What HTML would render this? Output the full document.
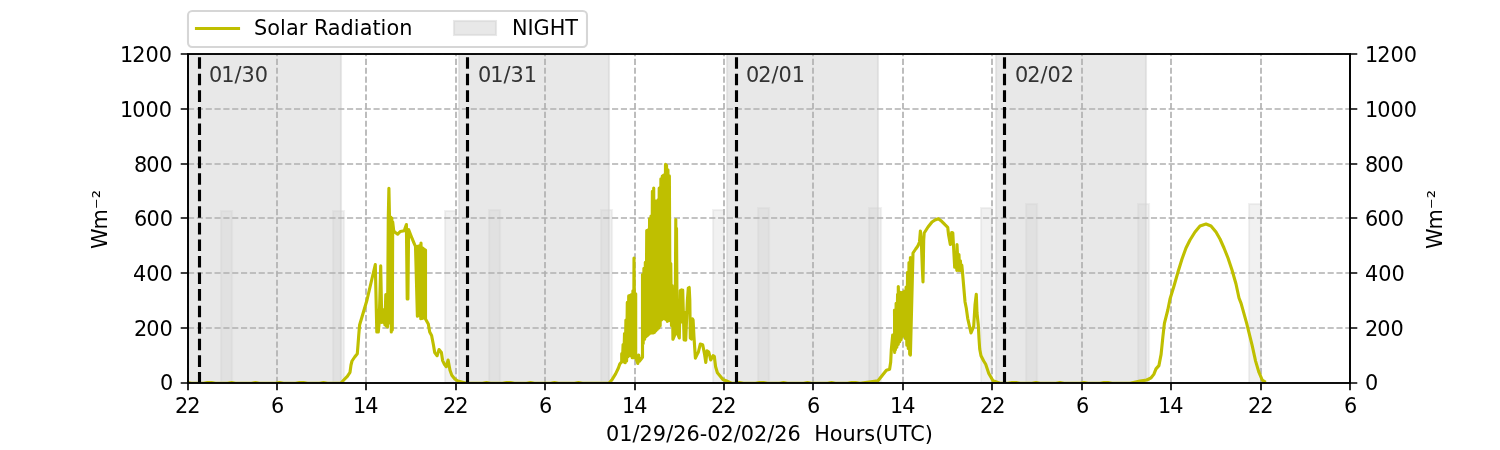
<!DOCTYPE html>
<html><head><meta charset="utf-8"><title>Solar Radiation</title><style>
html,body{margin:0;padding:0;background:#fff;width:1500px;height:450px;overflow:hidden}
svg{display:block;will-change:transform}
</style></head><body>
<svg width="1500" height="450" viewBox="0 0 1500 450">
<defs><clipPath id="ax"><rect x="187.5" y="54" width="1162.5" height="328.5"/></clipPath></defs>
<rect x="0" y="0" width="1500" height="450" fill="#fff"/>
<g clip-path="url(#ax)">
<rect x="-77" y="54" width="418" height="329" fill="#d3d3d3" fill-opacity="0.52" stroke="#d3d3d3" stroke-opacity="0.52" stroke-width="2.083"/>
<rect x="459" y="54" width="150" height="329" fill="#d3d3d3" fill-opacity="0.52" stroke="#d3d3d3" stroke-opacity="0.52" stroke-width="2.083"/>
<rect x="727" y="54" width="151" height="329" fill="#d3d3d3" fill-opacity="0.52" stroke="#d3d3d3" stroke-opacity="0.52" stroke-width="2.083"/>
<rect x="996" y="54" width="150" height="329" fill="#d3d3d3" fill-opacity="0.52" stroke="#d3d3d3" stroke-opacity="0.52" stroke-width="2.083"/>
<rect x="221" y="211" width="11" height="172" fill="#d3d3d3" fill-opacity="0.312" stroke="#d3d3d3" stroke-opacity="0.312" stroke-width="2.083"/>
<rect x="333" y="211" width="11" height="172" fill="#d3d3d3" fill-opacity="0.312" stroke="#d3d3d3" stroke-opacity="0.312" stroke-width="2.083"/>
<rect x="445" y="211" width="11" height="172" fill="#d3d3d3" fill-opacity="0.312" stroke="#d3d3d3" stroke-opacity="0.312" stroke-width="2.083"/>
<rect x="489" y="210" width="11" height="173" fill="#d3d3d3" fill-opacity="0.312" stroke="#d3d3d3" stroke-opacity="0.312" stroke-width="2.083"/>
<rect x="601" y="210" width="11" height="173" fill="#d3d3d3" fill-opacity="0.312" stroke="#d3d3d3" stroke-opacity="0.312" stroke-width="2.083"/>
<rect x="713" y="210" width="11" height="173" fill="#d3d3d3" fill-opacity="0.312" stroke="#d3d3d3" stroke-opacity="0.312" stroke-width="2.083"/>
<rect x="758" y="208" width="11" height="175" fill="#d3d3d3" fill-opacity="0.312" stroke="#d3d3d3" stroke-opacity="0.312" stroke-width="2.083"/>
<rect x="869" y="208" width="12" height="175" fill="#d3d3d3" fill-opacity="0.312" stroke="#d3d3d3" stroke-opacity="0.312" stroke-width="2.083"/>
<rect x="981" y="208" width="11" height="175" fill="#d3d3d3" fill-opacity="0.312" stroke="#d3d3d3" stroke-opacity="0.312" stroke-width="2.083"/>
<rect x="1026" y="204" width="11" height="179" fill="#d3d3d3" fill-opacity="0.312" stroke="#d3d3d3" stroke-opacity="0.312" stroke-width="2.083"/>
<rect x="1138" y="204" width="11" height="179" fill="#d3d3d3" fill-opacity="0.312" stroke="#d3d3d3" stroke-opacity="0.312" stroke-width="2.083"/>
<rect x="1249" y="204" width="12" height="179" fill="#d3d3d3" fill-opacity="0.312" stroke="#d3d3d3" stroke-opacity="0.312" stroke-width="2.083"/>
<path d="M188 383V54" stroke="#b0b0b0" stroke-width="1.667" stroke-dasharray="6.167,2.667" fill="none"/>
<path d="M277 383V54" stroke="#b0b0b0" stroke-width="1.667" stroke-dasharray="6.167,2.667" fill="none"/>
<path d="M366 383V54" stroke="#b0b0b0" stroke-width="1.667" stroke-dasharray="6.167,2.667" fill="none"/>
<path d="M456 383V54" stroke="#b0b0b0" stroke-width="1.667" stroke-dasharray="6.167,2.667" fill="none"/>
<path d="M545 383V54" stroke="#b0b0b0" stroke-width="1.667" stroke-dasharray="6.167,2.667" fill="none"/>
<path d="M635 383V54" stroke="#b0b0b0" stroke-width="1.667" stroke-dasharray="6.167,2.667" fill="none"/>
<path d="M724 383V54" stroke="#b0b0b0" stroke-width="1.667" stroke-dasharray="6.167,2.667" fill="none"/>
<path d="M813 383V54" stroke="#b0b0b0" stroke-width="1.667" stroke-dasharray="6.167,2.667" fill="none"/>
<path d="M903 383V54" stroke="#b0b0b0" stroke-width="1.667" stroke-dasharray="6.167,2.667" fill="none"/>
<path d="M992 383V54" stroke="#b0b0b0" stroke-width="1.667" stroke-dasharray="6.167,2.667" fill="none"/>
<path d="M1082 383V54" stroke="#b0b0b0" stroke-width="1.667" stroke-dasharray="6.167,2.667" fill="none"/>
<path d="M1171 383V54" stroke="#b0b0b0" stroke-width="1.667" stroke-dasharray="6.167,2.667" fill="none"/>
<path d="M1261 383V54" stroke="#b0b0b0" stroke-width="1.667" stroke-dasharray="6.167,2.667" fill="none"/>
<path d="M1350 383V54" stroke="#b0b0b0" stroke-width="1.667" stroke-dasharray="6.167,2.667" fill="none"/>
<path d="M188 383H1350" stroke="#b0b0b0" stroke-width="1.667" stroke-dasharray="6.167,2.667" fill="none"/>
<path d="M188 328H1350" stroke="#b0b0b0" stroke-width="1.667" stroke-dasharray="6.167,2.667" fill="none"/>
<path d="M188 273H1350" stroke="#b0b0b0" stroke-width="1.667" stroke-dasharray="6.167,2.667" fill="none"/>
<path d="M188 218H1350" stroke="#b0b0b0" stroke-width="1.667" stroke-dasharray="6.167,2.667" fill="none"/>
<path d="M188 164H1350" stroke="#b0b0b0" stroke-width="1.667" stroke-dasharray="6.167,2.667" fill="none"/>
<path d="M188 109H1350" stroke="#b0b0b0" stroke-width="1.667" stroke-dasharray="6.167,2.667" fill="none"/>
<path d="M188 54H1350" stroke="#b0b0b0" stroke-width="1.667" stroke-dasharray="6.167,2.667" fill="none"/>
<path d="M187.5 382.5 L191.5 383.2 L195.5 383.2 L199.5 383.2 L203.5 383.2 L207.5 382.5 L211.5 382.5 L215.5 383.2 L219.5 383.2 L223.5 383.2 L227.5 383.2 L231.5 382.5 L235.5 383.2 L239.5 383.2 L243.5 383.2 L247.5 383.2 L251.5 383.2 L255.5 382.5 L259.5 383.2 L263.5 383.2 L267.5 383.2 L271.5 383.2 L275.5 383.2 L279.5 382.5 L283.5 383.2 L287.5 383.2 L291.5 383.2 L295.5 383.2 L299.5 382.5 L303.5 382.5 L307.5 383.2 L311.5 383.2 L315.5 383.2 L319.5 383.2 L323.5 382.5 L327.5 383.2 L330 383.2 L340.7 383.2 L344 379.7 L347.3 376.3 L350 372.3 L351 365 L352 361 L354.7 357 L357.3 353.7 L358 345 L358.7 335.7 L359.6 325 L367 300 L375.3 264.5 L376.8 332 L377.6 310 L378.3 332 L379.1 323 L379.8 300 L380.7 265.8 L381.8 322.5 L382.6 309.5 L383.4 322.5 L384.2 309.5 L384.9 325 L385.8 294.5 L386.3 326 L386.8 294.5 L387.5 327 L388.3 217 L388.9 188.2 L389.5 217 L390.1 323 L390.7 217 L391.3 332 L391.8 218 L392.3 330 L392.7 222 L393.7 230.8 L395 232.2 L397.7 234.2 L400.3 231.5 L404.3 230.8 L405.5 227 L406.4 224.5 L407.2 299 L407.9 299 L408.6 229.5 L411 235.7 L413.7 242.3 L415.5 246.5 L417.4 316.3 L417.4 246.282 L418.075 315.562 L418.75 245.955 L419.425 315.583 L420.1 245.295 L420.775 318.75 L421 243 L422.125 318.394 L422.8 247.963 L423.475 318.056 L424.15 248.963 L424.825 318.019 L425.5 249.975 L425.5 319 L428.3 324 L429.7 332 L431.6 335.5 L433.4 344.7 L434.7 352.6 L437.1 355.7 L439 349.6 L441.4 352.6 L442.6 360.6 L444.4 364.2 L446.3 366.7 L448.1 360 L450 370.3 L451.8 375.2 L454.8 378.9 L457.9 381.1 L466.5 383.2 L470.5 383.2 L474.5 383.2 L478.5 383.2 L482.5 383.2 L486.5 382.5 L490.5 383.2 L494.5 383.2 L498.5 383.2 L502.5 383.2 L506.5 382.5 L510.5 382.5 L514.5 383.2 L518.5 383.2 L522.5 383.2 L526.5 383.2 L530.5 382.5 L534.5 383.2 L538.5 383.2 L542.5 383.2 L546.5 383.2 L550.5 383.2 L554.5 382.5 L558.5 383.2 L562.5 383.2 L566.5 383.2 L570.5 383.2 L574.5 383.2 L578.5 382.5 L582.5 383.2 L586.5 383.2 L590.5 383.2 L594.5 383.2 L600 383.2 L608.9 383.2 L612.2 379.4 L615.6 373.9 L618.3 368.3 L619.8 364 L621.7 361.727 L621.7 353.63 L622.4 361.591 L623.1 344.5 L623.8 361.971 L624.5 333.5 L625.2 362.794 L625.9 320.1 L626.6 360.909 L627.3 302.429 L628 356.773 L628.7 295.909 L629.4 355 L630.1 295.273 L630.8 355.783 L631.5 294.636 L632.2 357.609 L632.9 290.833 L633.6 357.783 L634 258 L635 357.13 L635.7 293.722 L635.7 357.344 L637.8 363.5 L638.7 355 L639.4 361.2 L640.4 360 L642.5 357.25 L642.5 274.473 L643.207 343.405 L643.914 268.359 L644.621 339.216 L645.328 262.244 L646.035 336.727 L646.742 230.555 L647.449 335.418 L648.156 229.707 L648.863 334.259 L649.57 218.802 L650.277 333.172 L650.984 216.045 L651.691 333 L652.398 191.256 L653.105 333 L653.7 188 L654.519 332.344 L655.226 200.822 L655.933 330.844 L656.64 200.969 L657.347 329.364 L658.053 199.853 L658.76 328.055 L659.2 188 L660.174 325.834 L660.881 178.766 L661.588 319.824 L662.295 176.115 L663.002 318.576 L663.709 175.067 L664.416 318.729 L665.5 164.3 L665.83 319.445 L666.537 165.297 L667.244 321.348 L667.951 169.781 L668.658 320.742 L669.365 175.935 L670.072 320.528 L670.779 263.5 L671.486 325.593 L672.193 285.5 L672.9 336.167 L672.9 339.289 L675.1 334.088 L675.8 219.5 L675.8 332.85 L676.5 228.324 L677.2 332.55 L677.2 332.55 L679.3 338 L680.3 290.5 L681.2 290 L682 322 L682.7 290 L684.1 339.826 L684.1 311.958 L684.9 339.826 L685.7 317.114 L685.7 340.174 L687.4 300 L688.3 288 L689.2 287.5 L689.8 300 L690.3 338 L691.5 339 L692.4 318.8 L693.1 320 L694 337.3 L695.4 358.1 L697.2 354.4 L698.4 352 L700.3 344.1 L702.7 344.7 L704.6 354.4 L705.8 362.4 L707 350.8 L708.8 352 L710.7 360 L713.1 355.7 L714.3 356.3 L715.6 366.7 L717.4 372.8 L720.5 376.5 L722.9 379.5 L726 380.7 L731.5 383.2 L735.5 383.2 L739.5 382.5 L743.5 383.2 L747.5 383.2 L751.5 383.2 L755.5 383.2 L759.5 382.5 L763.5 382.5 L767.5 383.2 L771.5 383.2 L775.5 383.2 L779.5 383.2 L783.5 382.5 L787.5 383.2 L791.5 383.2 L795.5 383.2 L799.5 383.2 L803.5 383.2 L807.5 382.5 L811.5 383.2 L815.5 383.2 L819.5 383.2 L823.5 383.2 L827.5 383.2 L831.5 382.5 L835.5 383.2 L839.5 383.2 L843.5 383.2 L847.5 383.2 L851.5 382.5 L855.5 382.5 L860 383.2 L878 380.8 L882.2 375.5 L886.4 370.2 L889.6 369.2 L890.7 362 L891.3 350 L892.7 335 L894.7 352.5 L894.5 310 L895.414 349.764 L896.127 303.335 L896.841 347.131 L897.555 294.227 L898.268 344.329 L898.3 286.5 L899.695 341.766 L900.409 292.423 L901.123 339.652 L901.836 292.487 L902.55 336.15 L903.264 291.958 L903.977 333.882 L904.691 290.97 L905.405 338.45 L906.118 287.005 L906.832 345.264 L907.545 272.385 L908.259 348.436 L908.973 262.464 L909.686 354.145 L910.4 257.5 L910.4 355.085 L913 253 L915.7 249 L917.7 246.3 L919.5 242 L920.4 231 L921.5 246 L922.4 270 L923 282 L923.7 240 L924.2 233 L928 227 L932 222 L935 220 L938.3 218.7 L941.7 221.3 L945 224.7 L947.7 227.3 L948.6 235 L950.3 244.5 L951.7 232.5 L952.8 233 L954.7 267.3 L954.7 258.5 L955.409 266.936 L956.118 258.136 L956.827 270.5 L957 244.5 L958.245 270.5 L958.955 254.599 L959.664 270.5 L960.373 260.723 L961.082 270.725 L961.791 265.056 L962.5 271.86 L962.5 272.5 L965 301.7 L966.3 308.3 L967.7 318.3 L971 333 L973.7 326.3 L975 305 L976.3 294.3 L977 313 L978.3 325 L979 338.3 L979.7 349 L981 355.7 L983.7 361 L985.7 364.3 L988.8 373.4 L993 380.8 L1000 383.2 L1004 383.2 L1008 383.2 L1012 382.5 L1016 382.5 L1020 383.2 L1024 383.2 L1028 383.2 L1032 383.2 L1036 382.5 L1040 383.2 L1044 383.2 L1048 383.2 L1052 383.2 L1056 383.2 L1060 382.5 L1064 383.2 L1068 383.2 L1072 383.2 L1076 383.2 L1080 383.2 L1084 382.5 L1088 383.2 L1092 383.2 L1096 383.2 L1100 383.2 L1104 382.5 L1108 382.5 L1112 383.2 L1116 383.2 L1120 383.2 L1124 383.2 L1130 383.2 L1140 381.1 L1146.7 380 L1151.1 377.8 L1153.8 374.4 L1156 368.9 L1158.9 365.6 L1161.1 354.4 L1162.9 336.7 L1164.4 323.3 L1167.8 310 L1170 299 L1174 286 L1178 272 L1182 259 L1186 248 L1190 240 L1195 232 L1200 226 L1206 224 L1211 226 L1216 232 L1220 239 L1224 248 L1228 258 L1232 270 L1236 284 L1239 298 L1241.1 303.3 L1246.7 323.3 L1252.2 345.6 L1255.6 361.1 L1258.9 372.2 L1262.2 380 L1264.4 381.5" stroke="#bfbf00" stroke-width="3.125" fill="none" stroke-linejoin="round" stroke-linecap="square"/>
<path d="M199.5 383.5V54.5" stroke="#000" stroke-width="3.125" stroke-dasharray="11.563,5" fill="none"/>
<path d="M467.5 383.5V54.5" stroke="#000" stroke-width="3.125" stroke-dasharray="11.563,5" fill="none"/>
<path d="M736.5 383.5V54.5" stroke="#000" stroke-width="3.125" stroke-dasharray="11.563,5" fill="none"/>
<path d="M1004.5 383.5V54.5" stroke="#000" stroke-width="3.125" stroke-dasharray="11.563,5" fill="none"/>
</g>
<path d="M188 383H1350V54H188Z" stroke="#000" stroke-width="1.667" fill="none" stroke-linejoin="miter" stroke-linecap="square"/>
<path d="M188 383H1350V54H188Z" stroke="#000" stroke-width="1.667" fill="none" stroke-linejoin="miter" stroke-linecap="square"/>
<path d="M188 383V390.292M277 383V390.292M366 383V390.292M456 383V390.292M545 383V390.292M635 383V390.292M724 383V390.292M813 383V390.292M903 383V390.292M992 383V390.292M1082 383V390.292M1171 383V390.292M1261 383V390.292M1350 383V390.292M188 383H180.708M1350 383H1357.292M188 328H180.708M1350 328H1357.292M188 273H180.708M1350 273H1357.292M188 218H180.708M1350 218H1357.292M188 164H180.708M1350 164H1357.292M188 109H180.708M1350 109H1357.292M188 54H180.708M1350 54H1357.292" stroke="#000" stroke-width="1.667" fill="none"/>
<g style="font-family:'DejaVu Sans','Liberation Sans',sans-serif;font-size:20.833px" fill="#000">
<text id="t0" x="209 221.25 234.5 241.5 254.75" y="82" fill="#333333">01/30</text>
<text id="t1" x="478 490.25 503.5 510.5 523.75" y="82" fill="#333333">01/31</text>
<text id="t2" x="746 758.25 771.5 778.5 791.75" y="82" fill="#333333">02/01</text>
<text id="t3" x="1015 1027.25 1040.5 1047.5 1060.75" y="82" fill="#333333">02/02</text>
<text id="t4" x="606 619.25 632.5 639.5 652.75 666.125 673.125 686.375 699.75 707.25 720.5 733.75 740.75 754 767.25 774.25 787.5 800.875 807.5 814.125 829.75 842.5 855.625 864.25 875.125 883.25 898.625 910.25 924.75" y="441">01/29/26-02/02/26&#160;&#160;Hours(UTC)</text>
<text id="t5" x="175 187.25" y="413">22</text>
<text id="t6" x="271" y="413">6</text>
<text id="t7" x="353 365.25" y="413">14</text>
<text id="t8" x="443 455.25" y="413">22</text>
<text id="t9" x="539" y="413">6</text>
<text id="t10" x="622 634.25" y="413">14</text>
<text id="t11" x="711 723.25" y="413">22</text>
<text id="t12" x="807" y="413">6</text>
<text id="t13" x="890 902.25" y="413">14</text>
<text id="t14" x="980 992.25" y="413">22</text>
<text id="t15" x="1076" y="413">6</text>
<text id="t16" x="1158 1170.25" y="413">14</text>
<text id="t17" x="1248 1260.25" y="413">22</text>
<text id="t18" x="1344" y="413">6</text>
<text id="t19" transform="translate(106.5 249) rotate(-90)" x="0 19.625 39.875 50.875" y="0">Wm⁻²</text>
<text id="t20" x="160" y="390">0</text>
<text id="t21" x="134 146.25 159.5" y="336">200</text>
<text id="t22" x="133 146.25 159.5" y="281">400</text>
<text id="t23" x="134 146.375 159.625" y="226">600</text>
<text id="t24" x="134 146.125 159.375" y="172">800</text>
<text id="t25" x="120 132.25 145.5 158.75" y="117">1000</text>
<text id="t26" x="120 132.25 145.5 158.75" y="62">1200</text>
<text id="t29" transform="translate(1441.5 249) rotate(-90)" x="0 19.625 39.875 50.875" y="0">Wm⁻²</text>
<text id="t30" x="1365" y="390">0</text>
<text id="t31" x="1365 1377.25 1390.5" y="336">200</text>
<text id="t32" x="1365 1378.25 1391.5" y="281">400</text>
<text id="t33" x="1365 1377.375 1390.625" y="226">600</text>
<text id="t34" x="1365 1377.125 1390.375" y="172">800</text>
<text id="t35" x="1365 1377.25 1390.5 1403.75" y="117">1000</text>
<text id="t36" x="1365 1377.25 1390.5 1403.75" y="62">1200</text>
</g>
<rect x="188" y="11" width="399" height="36" rx="4.167" fill="#fff" fill-opacity="0.8" stroke="#ccc" stroke-opacity="0.8" stroke-width="2.083"/>
<path d="M196.5 28.5H238.5" stroke="#bfbf00" stroke-width="3.125" stroke-linecap="square"/>
<rect x="454" y="21" width="42" height="14" fill="#d3d3d3" fill-opacity="0.52" stroke="#d3d3d3" stroke-opacity="0.52" stroke-width="2.083"/>
<g style="font-family:'DejaVu Sans','Liberation Sans',sans-serif;font-size:20.833px" fill="#000">
<text id="t27" x="254 267.25 280 285.875 298.625 307.25 313.875 327.75 340.5 353.75 359.625 372.375 380.5 386.375 399.125" y="35">Solar&#160;Radiation</text>
<text id="t28" x="512 527.5 533.5 549.625 565.25" y="35">NIGHT</text>
</g>
</svg>
</body></html>
